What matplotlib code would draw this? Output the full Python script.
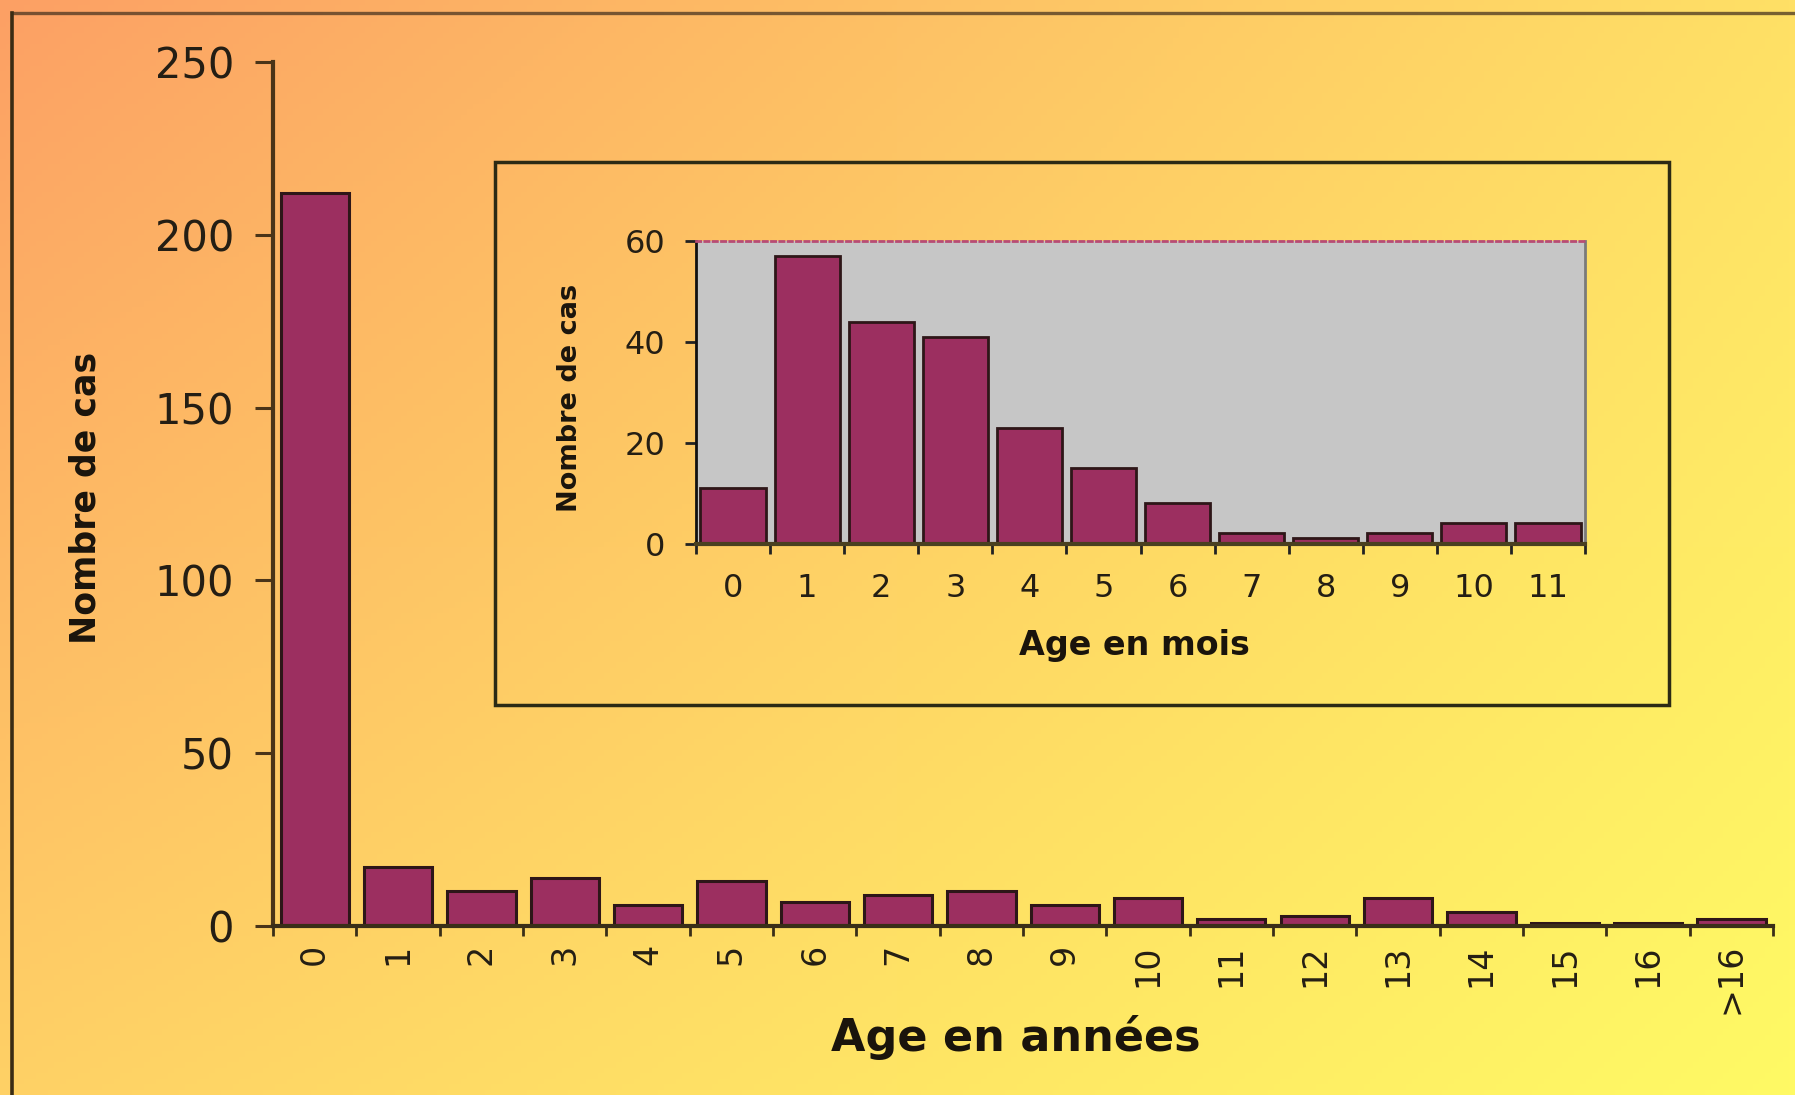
import numpy as np
import matplotlib
matplotlib.use("Agg")
import matplotlib.pyplot as plt
from matplotlib.patches import Rectangle
from matplotlib.lines import Line2D

# Cas par âge (années) et détail de la première année (mois)
age_years = ["0", "1", "2", "3", "4", "5", "6", "7", "8", "9",
             "10", "11", "12", "13", "14", "15", "16", ">16"]
cases_by_year = [212, 17, 10, 14, 6, 13, 7, 9, 10, 6, 8, 2, 3, 8, 4, 1, 1, 2]

age_months = ["0", "1", "2", "3", "4", "5", "6", "7", "8", "9", "10", "11"]
cases_by_month = [11, 57, 44, 41, 23, 15, 8, 2, 1, 2, 4, 4]

W, H = 1795, 1095
BAR = "#9c2f60"
BAR_EDGE = "#2e1618"
TXT = "#241e14"

fig = plt.figure(figsize=(W / 100, H / 100), dpi=100)

# fond en dégradé orange -> jaune
tl = np.array([252, 160, 100]) / 255
tr = np.array([255, 224, 102]) / 255
bl = np.array([255, 209, 102]) / 255
br = np.array([255, 250, 100]) / 255
u = np.linspace(0, 1, 300)[None, :, None]
v = np.linspace(0, 1, 200)[:, None, None]
grad = (1 - v) * ((1 - u) * tl + u * tr) + v * ((1 - u) * bl + u * br)
bg = fig.add_axes([0, 0, 1, 1], zorder=-10)
bg.imshow(np.clip(grad, 0, 1), aspect="auto", extent=[0, 1, 0, 1])
bg.axis("off")

# cadre extérieur
fig.add_artist(Line2D([12 / W, 1], [1 - 13 / H, 1 - 13 / H], color="#4a3520", alpha=0.75, lw=2.4))
fig.add_artist(Line2D([12 / W, 12 / W], [0, 1 - 13 / H], color="#3a2c14", lw=2.6))

# --- graphique principal ---
ax = fig.add_axes([273 / W, 1 - 926 / H, 1500 / W, 864 / H])
ax.patch.set_alpha(0)
x = np.arange(len(age_years))
ax.bar(x, cases_by_year, width=0.82, color=BAR, edgecolor=BAR_EDGE, linewidth=2.2, zorder=3)
ax.set_xlim(-0.5, len(age_years) - 0.5)
ax.set_ylim(0, 250)
for s in ["top", "right"]:
    ax.spines[s].set_visible(False)
ax.spines["left"].set_color("#4a3418")
ax.spines["left"].set_linewidth(3)
ax.spines["bottom"].set_color("#3a2e18")
ax.spines["bottom"].set_linewidth(3)
ax.spines["bottom"].set_zorder(4)

ax.set_yticks([0, 50, 100, 150, 200, 250])
ax.tick_params(axis="y", direction="out", length=13, width=2.2, color="#4a3418",
               labelsize=30, labelcolor=TXT, pad=15)
ax.set_xticks(x)
ax.set_xticklabels(age_years, rotation=90)
ax.set_xticks(np.arange(-0.5, len(age_years)), minor=True)
ax.tick_params(axis="x", which="major", length=0, labelsize=24, labelcolor=TXT, pad=13)
ax.tick_params(axis="x", which="minor", direction="out", length=7, width=2, color="#3a2e18")

fig.text(86 / W, 1 - 498 / H, "Nombre de cas", rotation=90, ha="center", va="center",
         fontsize=25, fontweight="bold", color="#1a140c")
fig.text(1016 / W, 1 - 1037 / H, "Age en années", ha="center", va="center",
         fontsize=32, fontweight="bold", color="#1a140c")

# --- encart : première année en mois ---
fig.add_artist(Rectangle((495 / W, 1 - 705 / H), (1669 - 495) / W, (705 - 162) / H,
                         transform=fig.transFigure, fill=False, edgecolor="#2c2a14", lw=2.5))

ax2 = fig.add_axes([696 / W, 1 - 543.5 / H, 889 / W, 302.5 / H])
ax2.set_facecolor("#c6c6c6")
xm = np.arange(len(age_months))
ax2.bar(xm, cases_by_month, width=0.88, color=BAR, edgecolor=BAR_EDGE, linewidth=2, zorder=3)
ax2.set_xlim(-0.5, len(age_months) - 0.5)
ax2.set_ylim(0, 60)
ax2.spines["left"].set_color("#111111")
ax2.spines["left"].set_linewidth(2)
ax2.spines["bottom"].set_color("#4a4020")
ax2.spines["bottom"].set_linewidth(3)
ax2.spines["bottom"].set_zorder(4)
ax2.spines["top"].set_color("#b84c74")
ax2.spines["top"].set_linewidth(2)
ax2.spines["top"].set_linestyle((0, (1.5, 1.5)))
ax2.spines["right"].set_color("#7a7a7a")
ax2.spines["right"].set_linewidth(2)

ax2.set_yticks([0, 20, 40, 60])
ax2.tick_params(axis="y", direction="out", length=8, width=2, color="#222222",
                labelsize=23, labelcolor=TXT, pad=14)
ax2.set_xticks(xm)
ax2.set_xticklabels(age_months)
ax2.set_xticks(np.arange(-0.5, len(age_months)), minor=True)
ax2.tick_params(axis="x", which="major", length=0, labelsize=23, labelcolor=TXT, pad=21)
ax2.tick_params(axis="x", which="minor", direction="out", length=7, width=2, color="#222222")

fig.text(570 / W, 1 - 398 / H, "Nombre de cas", rotation=90, ha="center", va="center",
         fontsize=19.5, fontweight="bold", color="#1a140c")
fig.text(1134 / W, 1 - 646 / H, "Age en mois", ha="center", va="center",
         fontsize=24, fontweight="bold", color="#1a140c")

fig.savefig("out.png", dpi=100)
